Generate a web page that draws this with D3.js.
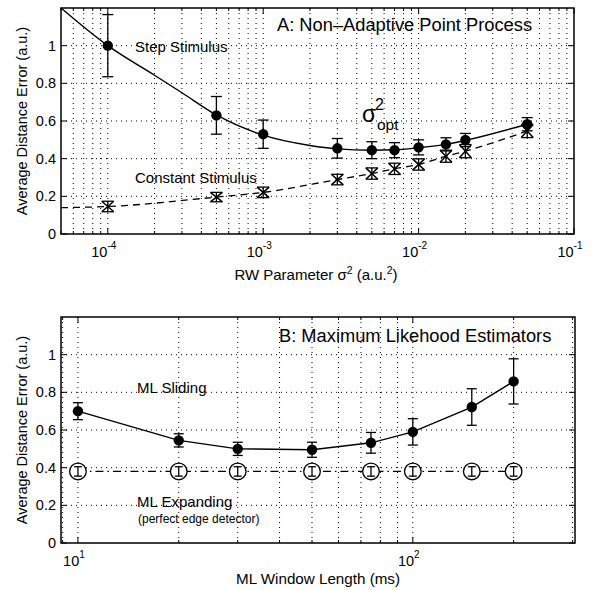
<!DOCTYPE html>
<html>
<head>
<meta charset="utf-8">
<script src="https://cdn.jsdelivr.net/npm/d3@7"></script>
<style>
  body { margin: 0; background: #fff; }
  text { font-family: "Liberation Sans", Arial, sans-serif; fill: #000; }
</style>
</head>
<body>
<div id="display"></div>
<script>
// panel A: random walk parameter sweep
const rwX = [1e-4, 5e-4, 1e-3, 3e-3, 5e-3, 7e-3, 1e-2, 1.5e-2, 2e-2, 5e-2];
const stepY = [1.0, 0.63, 0.53, 0.455, 0.445, 0.445, 0.46, 0.476, 0.499, 0.583];
const stepErr = [0.165, 0.1, 0.075, 0.052, 0.045, 0.04, 0.04, 0.035, 0.035, 0.035];
const constY = [0.146, 0.196, 0.221, 0.289, 0.321, 0.346, 0.369, 0.413, 0.44, 0.547];
const constErr = [0.028, 0.025, 0.028, 0.028, 0.03, 0.03, 0.03, 0.032, 0.035, 0.035];
// fitted curves drawn through the data
const stepFitX = [5e-5, 1e-4, 2e-4, 3e-4, 5e-4, 1e-3, 2e-3, 3e-3, 5e-3, 7e-3, 1e-2, 1.5e-2, 2e-2, 5e-2];
const stepFitY = [1.2, 1.0, 0.843, 0.75, 0.632, 0.525, 0.47, 0.452, 0.445, 0.447, 0.458, 0.476, 0.497, 0.583];
const constFitX = [5e-5, 1e-4, 5e-4, 1e-3, 3e-3, 5e-3, 7e-3, 1e-2, 1.5e-2, 2e-2, 5e-2];
const constFitY = [0.14, 0.146, 0.196, 0.221, 0.289, 0.321, 0.346, 0.369, 0.413, 0.44, 0.547];

// panel B: ML window length
const winX = [10, 20, 30, 50, 75, 100, 150, 200];
const slideY = [0.70, 0.545, 0.50, 0.495, 0.532, 0.59, 0.722, 0.858];
const slideErr = [0.045, 0.035, 0.035, 0.04, 0.055, 0.07, 0.097, 0.12];
const expandY = [0.38, 0.38, 0.38, 0.38, 0.38, 0.38, 0.38, 0.38];
const expandErr = [0.025, 0.025, 0.025, 0.025, 0.025, 0.025, 0.025, 0.025];

const yTicks = [0, 0.2, 0.4, 0.6, 0.8, 1];
const yTickLabels = ["0", "0.2", "0.4", "0.6", "0.8", "1"];

const W = 596, H = 590;
const svg = d3.select("#display").append("svg").attr("width", W).attr("height", H);

function drawFrame(g, x, y, majors, label) {
  let [x0, x1] = x.range();
  let [y0, y1] = y.range();

  // dotted grid
  let grid = g.append("g").attr("stroke", "#000").attr("stroke-width", 1)
    .attr("stroke-dasharray", "1,4");
  grid.selectAll(".vx").data(x.ticks().filter(d => x(d) > x0 + 1 && x(d) < x1 - 1))
    .join("line")
    .attr("x1", d => x(d)).attr("x2", d => x(d))
    .attr("y1", y0).attr("y2", y1);
  grid.selectAll(".hy").data(y.ticks(6).filter(d => d > 0 && d < 1.19))
    .join("line")
    .attr("x1", x0).attr("x2", x1)
    .attr("y1", d => y(d)).attr("y2", d => y(d));

  // inward ticks on all four sides
  let minor = x.ticks();
  let isMajor = d => Math.abs(Math.log10(d) - Math.round(Math.log10(d))) < 1e-6;
  let tk = g.append("g").attr("stroke", "#000").attr("stroke-width", 1);
  minor.forEach(d => {
    let len = isMajor(d) ? 6 : 3;
    tk.append("line").attr("x1", x(d)).attr("x2", x(d)).attr("y1", y0).attr("y2", y0 - len);
    tk.append("line").attr("x1", x(d)).attr("x2", x(d)).attr("y1", y1).attr("y2", y1 + len);
  });
  yTicks.forEach(d => {
    tk.append("line").attr("x1", x0).attr("x2", x0 + 6).attr("y1", y(d)).attr("y2", y(d));
    tk.append("line").attr("x1", x1).attr("x2", x1 - 6).attr("y1", y(d)).attr("y2", y(d));
  });

  g.append("rect").attr("x", x0).attr("y", y1).attr("width", x1 - x0).attr("height", y0 - y1)
    .attr("fill", "none").attr("stroke", "#000").attr("stroke-width", 1.5);

  // y tick labels
  g.selectAll(".ylab").data(yTicks).join("text")
    .attr("x", x0 - 5).attr("y", d => y(d) + 5)
    .attr("text-anchor", "end").attr("font-size", 14.5)
    .text((d, i) => yTickLabels[i]);

  // x tick labels, 10^n
  majors.forEach(d => {
    let t = g.append("text").attr("x", x(d) - 4).attr("y", y0 + 23)
      .attr("text-anchor", "middle").attr("font-size", 14.5);
    t.append("tspan").text("10");
    t.append("tspan").attr("dy", -8).attr("font-size", 10).text(Math.round(Math.log10(d)));
  });

  g.append("text")
    .attr("transform", `translate(27,${(y0 + y1) / 2}) rotate(-90)`)
    .attr("text-anchor", "middle").attr("font-size", 14.5)
    .text(label);
}

function errorBars(g, x, y, xs, ys, es, cap) {
  let eb = g.append("g").attr("stroke", "#000").attr("stroke-width", 1.3);
  xs.forEach((d, i) => {
    let cx = x(d), top = y(ys[i] + es[i]), bot = y(ys[i] - es[i]);
    eb.append("line").attr("x1", cx).attr("x2", cx).attr("y1", top).attr("y2", bot);
    eb.append("line").attr("x1", cx - cap).attr("x2", cx + cap).attr("y1", top).attr("y2", top);
    eb.append("line").attr("x1", cx - cap).attr("x2", cx + cap).attr("y1", bot).attr("y2", bot);
  });
}

// ---------- panel A ----------
let xa = d3.scaleLog().domain([5e-5, 0.1]).range([61, 574]);
let ya = d3.scaleLinear().domain([0, 1.2]).range([234, 8]);
let ga = svg.append("g");
drawFrame(ga, xa, ya, [1e-4, 1e-3, 1e-2, 1e-1], "Average Distance Error (a.u.)");

let lineA = d3.line().curve(d3.curveMonotoneX).x(d => xa(d[0])).y(d => ya(d[1]));
ga.append("path").attr("d", lineA(d3.zip(stepFitX, stepFitY)))
  .attr("fill", "none").attr("stroke", "#000").attr("stroke-width", 1.4);
ga.append("path").attr("d", lineA(d3.zip(constFitX, constFitY)))
  .attr("fill", "none").attr("stroke", "#000").attr("stroke-width", 1.3)
  .attr("stroke-dasharray", "7,5");

errorBars(ga, xa, ya, rwX, constY, constErr, 6);
rwX.forEach((d, i) => {
  let cx = xa(d), cy = ya(constY[i]), s = ya(constY[i] - constErr[i]) - cy;
  ga.append("path")
    .attr("d", `M${cx - 6},${cy - s}L${cx + 6},${cy + s}M${cx + 6},${cy - s}L${cx - 6},${cy + s}`)
    .attr("stroke", "#000").attr("stroke-width", 1.5);
});
errorBars(ga, xa, ya, rwX, stepY, stepErr, 5.5);
ga.selectAll(".dot").data(rwX).join("circle")
  .attr("cx", d => xa(d)).attr("cy", (d, i) => ya(stepY[i])).attr("r", 5.2).attr("fill", "#000");

ga.append("text").attr("x", 277).attr("y", 31).attr("font-size", 18.3)
  .text("A: Non\u2013Adaptive Point Process");
ga.append("text").attr("x", 135).attr("y", 52).attr("font-size", 15).text("Step Stimulus");
ga.append("text").attr("x", 135).attr("y", 183).attr("font-size", 15).text("Constant Stimulus");
ga.append("text").attr("x", 362).attr("y", 122).attr("font-size", 23).text("\u03c3");
ga.append("text").attr("x", 375).attr("y", 110).attr("font-size", 16).text("2");
ga.append("text").attr("x", 377).attr("y", 130).attr("font-size", 15.5).text("opt");

let xl = ga.append("text").attr("x", 316).attr("y", 280).attr("text-anchor", "middle").attr("font-size", 15);
xl.append("tspan").text("RW Parameter \u03c3");
xl.append("tspan").attr("dy", -6).attr("font-size", 10.5).text("2");
xl.append("tspan").attr("dy", 6).text(" (a.u.");
xl.append("tspan").attr("dy", -6).attr("font-size", 10.5).text("2");
xl.append("tspan").attr("dy", 6).text(")");

// ---------- panel B ----------
let xb = d3.scaleLog().domain([8.9, 305]).range([61, 575]);
let yb = d3.scaleLinear().domain([0, 1.2]).range([543, 317]);
let gb = svg.append("g");
drawFrame(gb, xb, yb, [10, 100], "Average Distance Error (a.u.)");

let lineB = d3.line().x(d => xb(d[0])).y(d => yb(d[1]));
gb.append("path").attr("d", lineB(d3.zip(winX, expandY)))
  .attr("fill", "none").attr("stroke", "#000").attr("stroke-width", 1.3)
  .attr("stroke-dasharray", "8,4,1.5,4");
gb.append("path").attr("d", lineB(d3.zip(winX, slideY)))
  .attr("fill", "none").attr("stroke", "#000").attr("stroke-width", 1.4);

gb.selectAll(".open").data(winX).join("circle")
  .attr("cx", d => xb(d)).attr("cy", (d, i) => yb(expandY[i])).attr("r", 8.3)
  .attr("fill", "#fff").attr("stroke", "#000").attr("stroke-width", 1.3);
errorBars(gb, xb, yb, winX, expandY, expandErr, 4);
errorBars(gb, xb, yb, winX, slideY, slideErr, 5);
gb.selectAll(".dot").data(winX).join("circle")
  .attr("cx", d => xb(d)).attr("cy", (d, i) => yb(slideY[i])).attr("r", 5.2).attr("fill", "#000");

gb.append("text").attr("x", 279).attr("y", 342).attr("font-size", 18.3)
  .text("B: Maximum Likehood Estimators");
gb.append("text").attr("x", 137).attr("y", 393).attr("font-size", 15).text("ML Sliding");
gb.append("text").attr("x", 137).attr("y", 507).attr("font-size", 15).text("ML Expanding");
gb.append("text").attr("x", 138).attr("y", 523).attr("font-size", 12).text("(perfect edge detector)");
gb.append("text").attr("x", 318).attr("y", 584).attr("text-anchor", "middle").attr("font-size", 15.2)
  .text("ML Window Length (ms)");
</script>
</body>
</html>
